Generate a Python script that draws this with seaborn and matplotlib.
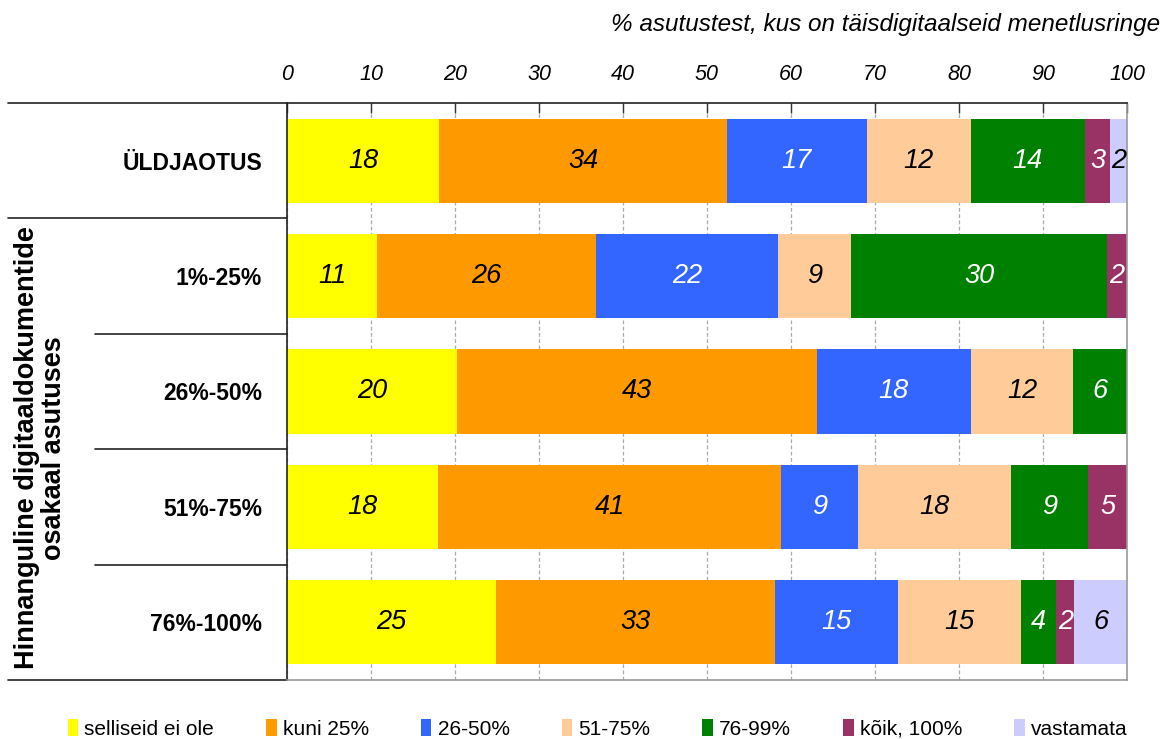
import numpy as np
import pandas as pd
import matplotlib
matplotlib.use('Agg')
import matplotlib.pyplot as plt
from matplotlib.patches import Patch
import seaborn as sns

# %%
categories = ['ÜLDJAOTUS', '1%-25%', '26%-50%', '51%-75%', '76%-100%']
series = ['selliseid ei ole', 'kuni 25%', '26-50%', '51-75%', '76-99%', 'kõik, 100%', 'vastamata']
values = {
    'selliseid ei ole': [18.1, 10.7, 20.2, 18.0, 24.9],
    'kuni 25%':         [34.3, 26.1, 42.9, 40.8, 33.2],
    '26-50%':           [16.6, 21.7, 18.3, 9.2, 14.6],
    '51-75%':           [12.4, 8.7, 12.2, 18.2, 14.7],
    '76-99%':           [13.6, 30.4, 6.4, 9.2, 4.2],
    'kõik, 100%':       [3.0, 2.4, 0.0, 4.6, 2.1],
    'vastamata':        [2.0, 0.0, 0.0, 0.0, 6.3],
}
colors = ['#FFFF00', '#FF9900', '#3366FF', '#FFCC99', '#008000', '#993366', '#CCCCFF']
text_colors = ['black', 'black', 'white', 'black', 'white', 'white', 'black']
x_ticks = [0, 10, 20, 30, 40, 50, 60, 70, 80, 90, 100]

# %%
df = pd.DataFrame(values, index=categories)
cum = df.cumsum(axis=1)

sns.set_style('white')
plt.rcParams['font.family'] = ['Liberation Sans', 'DejaVu Sans']
plt.rcParams['text.color'] = 'black'
plt.rcParams['xtick.color'] = 'black'
plt.rcParams['ytick.color'] = 'black'

fig = plt.figure(figsize=(11.65, 7.39), dpi=100)
ax = fig.add_axes([287 / 1165, 1 - 680 / 739, 840 / 1165, 577 / 739])

# stacked bars: draw cumulative totals from the last series backwards
for i in range(len(series) - 1, -1, -1):
    s = series[i]
    sns.barplot(x=cum[s].values, y=categories, orient='h', color=colors[i],
                saturation=1, width=0.73, linewidth=0, ax=ax, zorder=2)

# value labels
for i, s in enumerate(series):
    for j, cat in enumerate(categories):
        v = df.loc[cat, s]
        if v <= 0:
            continue
        center = cum.loc[cat, s] - v / 2
        ax.text(center, j, f'{v:.0f}', ha='center', va='center', fontsize=19.5,
                style='italic', color=text_colors[i], zorder=3)

ax.set_xlim(0, 100)
ax.set_ylim(4.5, -0.5)
ax.set_xlabel('')
ax.set_ylabel('')

ax.xaxis.tick_top()
ax.set_xticks(x_ticks)
ax.set_xticklabels([str(t) for t in x_ticks], fontsize=15.5, style='italic')
ax.tick_params(axis='x', direction='in', length=7, width=1, color='#333333', pad=13, top=True, bottom=False)
ax.tick_params(axis='y', length=0, pad=18)
for lbl in ax.get_yticklabels():
    lbl.set_fontweight('bold')
    lbl.set_fontsize(16.5)

ax.grid(axis='x', linestyle=(0, (3, 2)), color='#aaaaaa', linewidth=0.9, zorder=0)
ax.set_axisbelow(True)

for side in ['top', 'left']:
    ax.spines[side].set_color('#222222')
    ax.spines[side].set_linewidth(1.2)
for side in ['right', 'bottom']:
    ax.spines[side].set_color('#999999')
    ax.spines[side].set_linewidth(1.2)

# table-like separator lines in the label area
ax.axhline(-0.5, xmin=-0.332, xmax=0, color='#222222', lw=1.2, clip_on=False)
ax.axhline(4.5, xmin=-0.332, xmax=0, color='#222222', lw=1.2, clip_on=False)
ax.axhline(0.5, xmin=-0.332, xmax=0, color='#222222', lw=1.2, clip_on=False)
for y in [1.5, 2.5, 3.5]:
    ax.axhline(y, xmin=-0.229, xmax=0, color='#222222', lw=1.2, clip_on=False)

fig.text(41 / 1165, 1 - 448 / 739, 'Hinnanguline digitaaldokumentide\nosakaal asutuses',
         rotation=90, ha='center', va='center', fontsize=19.5, fontweight='bold',
         linespacing=1.05)

fig.text(1160 / 1165, 1 - 25 / 739, '% asutustest, kus on täisdigitaalseid menetlusringe',
         ha='right', va='center', fontsize=17.5, style='italic')

handles = [Patch(facecolor=c, edgecolor='none', label=s) for s, c in zip(series, colors)]
fig.legend(handles=handles, loc='lower center', bbox_to_anchor=(0.513, -0.025), ncol=7,
           frameon=False, fontsize=15, handlelength=0.5, handleheight=0.9,
           handletextpad=0.3, columnspacing=2.5)

plt.savefig('out.png', dpi=100)
